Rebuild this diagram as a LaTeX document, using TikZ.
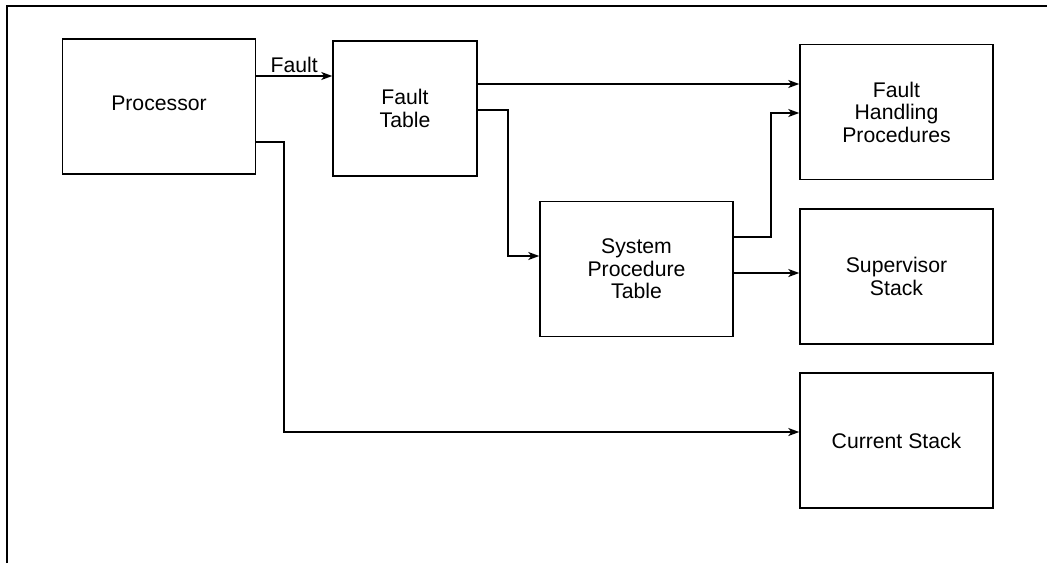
\documentclass[tikz,border=0pt]{standalone}
\usepackage{fontspec}
\setmainfont{Liberation Sans}
\usetikzlibrary{arrows.meta}

\begin{document}
\begin{tikzpicture}[x=1pt,y=-1pt,
  box/.style={draw,line width=1.5pt,minimum width=193pt,minimum height=135pt,
    inner sep=0pt,align=center,font=\fontsize{21.2}{22.5}\selectfont},
  arrow/.style={line width=1.5pt,-{Stealth[length=11pt,width=8pt,inset=3pt]}}
]
\useasboundingbox (0,0) rectangle (1047,563);
\draw[line width=1.5pt] (7,563) -- (7,6) -- (1047,6);
\node[box] (proc) at (159,106.5) {};
\node[font=\fontsize{21.2}{22.5}\selectfont] (proctxt) at (159,103) {Processor};
\node[box,minimum width=144pt] (ft) at (405,108.5) {Fault\\Table};
\node[box] (fh) at (896.5,112) {Fault\\Handling\\Procedures};
\node[box] (spt) at (636.5,269) {System\\Procedure\\Table};
\node[box] (ss) at (896.5,276.5) {Supervisor\\Stack};
\node[box] (cs) at (896.5,440.5) {Current Stack};
\draw[arrow] (proc.east |- 0,76) -- node[above,font=\fontsize{21.2}{22.5}\selectfont,inner sep=3pt] (flt) {Fault} (ft.west |- 0,76);
\draw[arrow] (proc.east |- 0,142) -- (284,142) |- (cs.west |- 0,432);
\draw[arrow] (ft.east |- 0,84) -- (fh.west |- 0,84);
\draw[arrow] (ft.east |- 0,110) -- (508,110) |- (spt.west |- 0,256);
\draw[arrow] (spt.east |- 0,237) -- (771,237) |- (fh.west |- 0,113);
\draw[arrow] (spt.east |- 0,273) -- (ss.west |- 0,273);
\end{tikzpicture}
\end{document}
